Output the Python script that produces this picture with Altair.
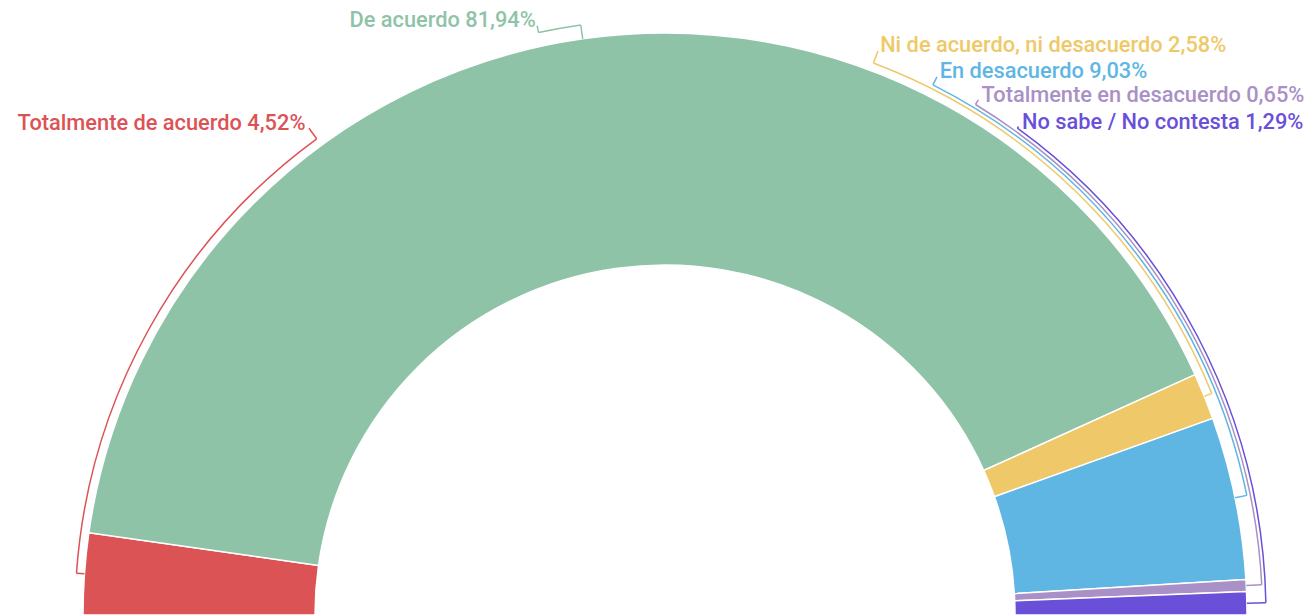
import altair as alt
import pandas as pd
import math

# ---- data ----
categories = ["Totalmente de acuerdo", "De acuerdo", "Ni de acuerdo, ni desacuerdo",
              "En desacuerdo", "Totalmente en desacuerdo", "No sabe / No contesta"]
values = [4.52, 81.94, 2.58, 9.03, 0.65, 1.29]
value_labels = ["4,52%", "81,94%", "2,58%", "9,03%", "0,65%", "1,29%"]

# ---- style / layout ----
colors = ["#dc5356", "#8fc3a7", "#efc969", "#60b6e3", "#a990c7", "#6a50d8"]
label_at = [29.9, 43.2, 61.5, 64.9, 67.4, 69.95]     # label angle (in value units along the arc)
leader_r = [590, 596, 590, 594, 597.5, 601]          # radius of each leader line
label_side = ["right", "right", "left", "left", "left", "left"]

OUTER, INNER = 582, 350
CX, CY = 657, 607
W, H = 1297, 607

total = sum(values)
df = pd.DataFrame({"cat": categories, "value": values})
df["end"] = df["value"].cumsum()
df["start"] = df["end"] - df["value"]
df["mid"] = (df["start"] + df["end"]) / 2
df["lab"] = label_at
df["r"] = leader_r
df["side"] = label_side
df["text"] = [f"{c} {v}" for c, v in zip(categories, value_labels)]

th = alt.Scale(domain=[0, total], range=[-math.pi / 2, math.pi / 2])
cs = alt.Scale(domain=categories, range=colors)

base = alt.Chart(df)
cx = alt.value(CX)
cy = alt.value(CY)

slices = base.mark_arc(innerRadius=INNER, outerRadius=OUTER, stroke="white", strokeWidth=1.5).encode(
    theta=alt.Theta("start:Q", scale=th, stack=False),
    theta2="end:Q",
    color=alt.Color("cat:N", scale=cs, legend=None),
    x=cx, y=cy,
)

leaders = base.mark_arc(fillOpacity=0, strokeWidth=1.5).encode(
    theta=alt.Theta("mid:Q", scale=th, stack=False),
    theta2="lab:Q",
    radius=alt.Radius("r:Q", scale=None),
    radius2="r:Q",
    stroke=alt.Stroke("cat:N", scale=cs, legend=None),
    x=cx, y=cy,
)

start_ticks = base.mark_arc(fillOpacity=0, strokeWidth=1.5).encode(
    theta=alt.Theta("mid:Q", scale=th, stack=False),
    theta2="mid:Q",
    radius=alt.Radius("r:Q", scale=None),
    radius2=alt.value(OUTER),
    stroke=alt.Stroke("cat:N", scale=cs, legend=None),
    x=cx, y=cy,
)

end_ticks = base.mark_arc(fillOpacity=0, strokeWidth=1.5).encode(
    theta=alt.Theta("lab:Q", scale=th, stack=False),
    theta2="lab:Q",
    radius=alt.Radius("r:Q", scale=None),
    radius2=alt.value(603),
    stroke=alt.Stroke("cat:N", scale=cs, legend=None),
    x=cx, y=cy,
)

def labels(side):
    return base.transform_filter(alt.datum.side == side).mark_text(
        font="Roboto", fontSize=21.8, fontWeight=500, baseline="middle", align=side, radius=609
    ).encode(
        theta=alt.Theta("lab:Q", scale=th, stack=False),
        text="text:N",
        color=alt.Color("cat:N", scale=cs, legend=None),
        x=cx, y=cy,
    )

chart = alt.layer(slices, leaders, start_ticks, end_ticks, labels("right"), labels("left")).properties(
    width=W, height=H, padding=0,
    autosize=alt.AutoSizeParams(type="none"),
).configure_view(stroke=None)

chart.save("out.html", embed_options={"renderer": "svg", "actions": False})
